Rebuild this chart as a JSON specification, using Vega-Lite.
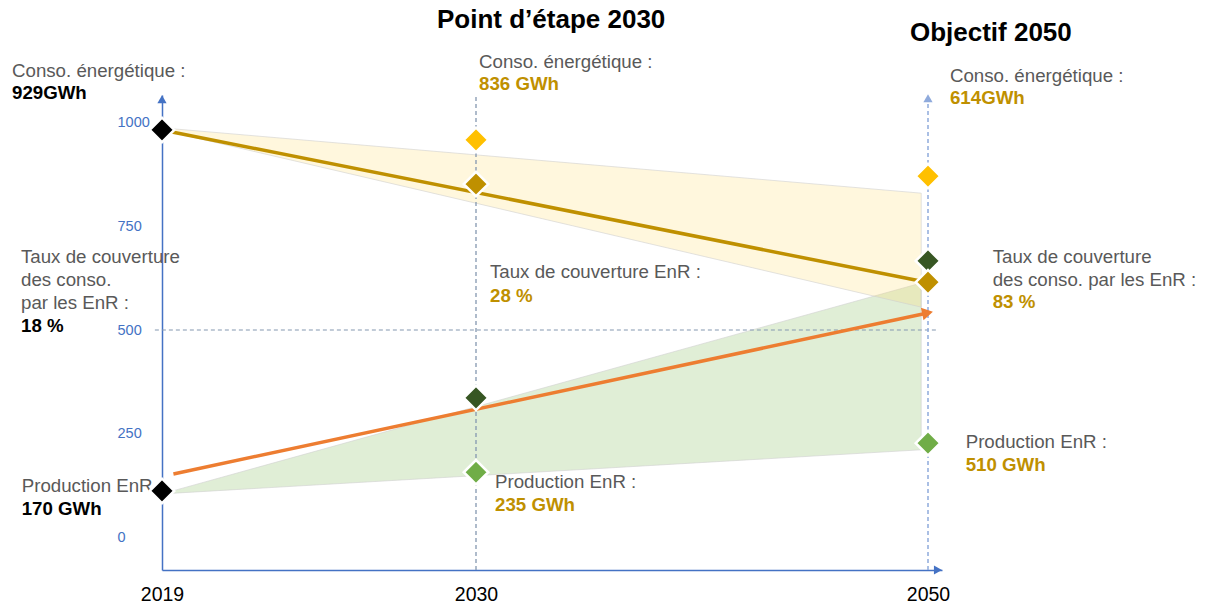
{
  "$schema": "https://vega.github.io/schema/vega-lite/v6.json",
  "width": 780,
  "height": 475,
  "autosize": {"type": "none"},
  "padding": {"left": 162, "top": 95, "right": 269, "bottom": 39},
  "background": "white",
  "config": {"view": {"stroke": null}, "font": "Liberation Sans"},
  "datasets": {
    "areas": [
      {"series": "green", "year": 2019, "v": 106, "v2": 106},
      {"series": "green", "year": 2049.7, "v": 613, "v2": 212},
      {"series": "yellow", "year": 2019, "v": 986, "v2": 981},
      {"series": "yellow", "year": 2049.7, "v": 829, "v2": 555}
    ],
    "points": [
      {"year": 2019, "v": 981, "kind": "black"},
      {"year": 2019, "v": 113, "kind": "black"},
      {"year": 2030, "v": 957, "kind": "yellow"},
      {"year": 2030, "v": 851, "kind": "gold"},
      {"year": 2030, "v": 337, "kind": "darkgreen"},
      {"year": 2030, "v": 158, "kind": "lightgreen"},
      {"year": 2050, "v": 870, "kind": "yellow"},
      {"year": 2050, "v": 666, "kind": "darkgreen"},
      {"year": 2050, "v": 615, "kind": "gold"},
      {"year": 2050, "v": 228, "kind": "lightgreen"}
    ],
    "labels": [
      {"year": 2013.745, "v": 1108.2, "text": "Conso. énergétique :", "kind": "grey"},
      {"year": 2014.06, "v": 661.8, "text": "Taux de couverture", "kind": "grey"},
      {"year": 2014.06, "v": 605.8, "text": "des conso.", "kind": "grey"},
      {"year": 2014.06, "v": 549.8, "text": "par les EnR :", "kind": "grey"},
      {"year": 2014.085, "v": 111.3, "text": "Production EnR :", "kind": "grey"},
      {"year": 2030.133, "v": 1129.1, "text": "Conso. énergétique :", "kind": "grey"},
      {"year": 2030.619, "v": 625.7, "text": "Taux de couverture EnR :", "kind": "grey"},
      {"year": 2030.841, "v": 120.2, "text": "Production EnR :", "kind": "grey"},
      {"year": 2050.973, "v": 1096.9, "text": "Conso. énergétique :", "kind": "grey"},
      {"year": 2052.863, "v": 660.3, "text": "Taux de couverture", "kind": "grey"},
      {"year": 2052.863, "v": 605.8, "text": "des conso. par les EnR :", "kind": "grey"},
      {"year": 2051.668, "v": 215.6, "text": "Production EnR :", "kind": "grey"},
      {"year": 2013.745, "v": 1054.6, "text": "929GWh", "kind": "black"},
      {"year": 2014.06, "v": 495.9, "text": "18 %", "kind": "black"},
      {"year": 2014.085, "v": 55.3, "text": "170 GWh", "kind": "black"},
      {"year": 2030.133, "v": 1076.9, "text": "836 GWh", "kind": "gold"},
      {"year": 2030.619, "v": 568.0, "text": "28 %", "kind": "gold"},
      {"year": 2030.841, "v": 64.9, "text": "235 GWh", "kind": "gold"},
      {"year": 2050.973, "v": 1042.5, "text": "614GWh", "kind": "gold"},
      {"year": 2052.863, "v": 553.6, "text": "83 %", "kind": "gold"},
      {"year": 2051.668, "v": 161.8, "text": "510 GWh", "kind": "gold"},
      {"year": 2028.634, "v": 1226, "text": "Point d’étape 2030", "kind": "title"},
      {"year": 2049.2, "v": 1194.7, "text": "Objectif 2050", "kind": "title"}
    ]
  },
  "encoding": {
    "x": {
      "field": "year",
      "type": "quantitative",
      "scale": {"domain": [2019, 2030, 2050, 2050.62], "range": [0, 314, 766, 780], "nice": false, "zero": false},
      "axis": {
        "values": [2019, 2030, 2050],
        "format": "d",
        "title": null,
        "grid": false,
        "ticks": false,
        "tickSize": 0,
        "labelFlush": false,
        "labelOverlap": false,
        "labelPadding": 15,
        "labelFontSize": 19.5,
        "labelColor": "#000000",
        "labelFont": "Liberation Sans",
        "domainColor": "#4472C4",
        "domainWidth": 1.5
      }
    },
    "y": {
      "field": "v",
      "type": "quantitative",
      "scale": {"domain": [-77, 1065], "nice": false, "zero": false},
      "axis": {
        "values": [0, 250, 500, 750, 1000],
        "format": "d",
        "title": null,
        "grid": false,
        "ticks": false,
        "tickSize": 0,
        "labelAlign": "left",
        "labelBaseline": "middle",
        "labelPadding": 45,
        "labelOverlap": false,
        "labelFontSize": 14.5,
        "labelColor": "#4472C4",
        "labelFont": "Liberation Sans",
        "domainColor": "#4472C4",
        "domainWidth": 1.5
      }
    }
  },
  "layer": [
    {
      "data": {"name": "areas"},
      "transform": [{"filter": "datum.series === 'green'"}],
      "mark": {"type": "area", "fill": "#A9D18E", "fillOpacity": 0.36, "stroke": "#D0D0D0", "strokeWidth": 0.6},
      "encoding": {"y2": {"field": "v2"}}
    },
    {
      "data": {"name": "areas"},
      "transform": [{"filter": "datum.series === 'yellow'"}],
      "mark": {"type": "area", "fill": "#FFD966", "fillOpacity": 0.22, "stroke": "#D0D0D0", "strokeWidth": 0.6},
      "encoding": {"y2": {"field": "v2"}}
    },
    {
      "data": {"values": [{"year": 2018.75, "year2": 2050.4, "v": 500}]},
      "mark": {"type": "rule", "color": "#8497B0", "strokeWidth": 1.2, "strokeDash": [4, 3]},
      "encoding": {"x2": {"field": "year2"}}
    },
    {
      "data": {"values": [{"year": 2030, "v": -77, "v2": 1065}]},
      "mark": {"type": "rule", "color": "#8497B0", "strokeWidth": 1.3, "strokeDash": [4, 3]},
      "encoding": {"y2": {"field": "v2"}}
    },
    {
      "data": {"values": [{"year": 2050, "v": -77, "v2": 1062}]},
      "mark": {"type": "rule", "color": "#8FAADC", "strokeWidth": 1.5, "strokeDash": [4, 3]},
      "encoding": {"y2": {"field": "v2"}}
    },
    {
      "data": {"values": [{"year": 2019, "v": 981}, {"year": 2050, "v": 614}]},
      "mark": {"type": "line", "color": "#BF9000", "strokeWidth": 3.5},
      "encoding": {}
    },
    {
      "data": {"values": [{"year": 2019.4, "v": 154}, {"year": 2049.98, "v": 541}]},
      "mark": {"type": "line", "color": "#ED7D31", "strokeWidth": 3.5},
      "encoding": {}
    },
    {
      "data": {"values": [{"year": 2049.98, "v": 541.3}]},
      "mark": {"type": "point", "shape": "triangle-right", "filled": true, "color": "#ED7D31", "opacity": 1, "size": 160, "angle": 348},
      "encoding": {}
    },
    {
      "data": {"values": [{"year": 2019, "v": 1055}]},
      "mark": {"type": "point", "shape": "triangle-up", "filled": true, "color": "#4472C4", "opacity": 1, "size": 85},
      "encoding": {}
    },
    {
      "data": {"values": [{"year": 2050, "v": 1057}]},
      "mark": {"type": "point", "shape": "triangle-up", "filled": true, "color": "#8FAADC", "opacity": 1, "size": 85},
      "encoding": {}
    },
    {
      "data": {"values": [{"year": 2050.44, "v": -77}]},
      "mark": {"type": "point", "shape": "triangle-right", "filled": true, "color": "#4472C4", "opacity": 1, "size": 85},
      "encoding": {}
    },
    {
      "data": {"name": "labels"},
      "transform": [{"filter": "datum.kind === 'grey'"}],
      "mark": {"type": "text", "align": "left", "baseline": "alphabetic", "font": "Liberation Sans", "fontSize": 18.7, "color": "#595959"},
      "encoding": {"text": {"field": "text"}}
    },
    {
      "data": {"name": "labels"},
      "transform": [{"filter": "datum.kind === 'black'"}],
      "mark": {"type": "text", "align": "left", "baseline": "alphabetic", "font": "Liberation Sans", "fontSize": 18.7, "fontWeight": "bold", "color": "#000000"},
      "encoding": {"text": {"field": "text"}}
    },
    {
      "data": {"name": "labels"},
      "transform": [{"filter": "datum.kind === 'gold'"}],
      "mark": {"type": "text", "align": "left", "baseline": "alphabetic", "font": "Liberation Sans", "fontSize": 18.7, "fontWeight": "bold", "color": "#BF9000"},
      "encoding": {"text": {"field": "text"}}
    },
    {
      "data": {"name": "labels"},
      "transform": [{"filter": "datum.kind === 'title'"}],
      "mark": {"type": "text", "align": "left", "baseline": "alphabetic", "font": "Liberation Sans", "fontSize": 26, "fontWeight": "bold", "color": "#000000"},
      "encoding": {"text": {"field": "text"}}
    },
    {
      "data": {"name": "points"},
      "mark": {"type": "point", "shape": "diamond", "filled": true, "opacity": 1, "size": 600, "stroke": "#FFFFFF", "strokeWidth": 2.5},
      "encoding": {
        "color": {
          "field": "kind",
          "type": "nominal",
          "scale": {"domain": ["black", "yellow", "gold", "darkgreen", "lightgreen"], "range": ["#000000", "#FFC000", "#BF9000", "#375623", "#70AD47"]},
          "legend": null
        }
      }
    }
  ]
}
